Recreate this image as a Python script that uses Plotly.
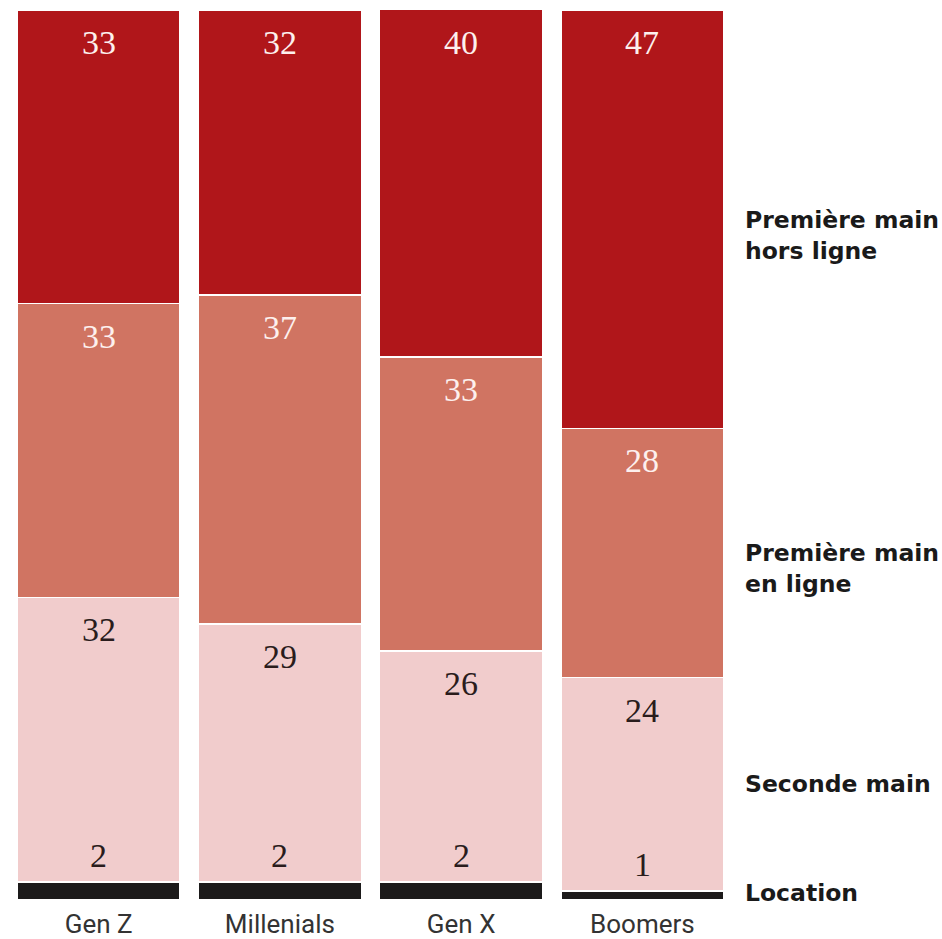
import plotly.graph_objects as go
import numpy as np

categories = ["Gen Z", "Millenials", "Gen X", "Boomers"]
location = [2, 2, 2, 1]
seconde_main = [32, 29, 26, 24]
premiere_en_ligne = [33, 37, 33, 28]
premiere_hors_ligne = [33, 32, 40, 47]

series_names = ["Location", "Seconde main", "Première main en ligne", "Première main hors ligne"]
side_labels = ["Location", "Seconde main", "Première main<br>en ligne", "Première main<br>hors ligne"]
series_values = [location, seconde_main, premiere_en_ligne, premiere_hors_ligne]
colors = ["#1c1a1a", "#f1cccc", "#d07462", "#b0161a"]
text_colors = ["#2a1c1c", "#2a1c1c", "#fdf0ee", "#fdf0ee"]

fig = go.Figure()
for name, vals, col in zip(series_names, series_values, colors):
    fig.add_trace(go.Bar(
        x=categories, y=vals, name=name,
        marker=dict(color=col, line=dict(color="white", width=1.5)),
        hoverinfo="skip",
    ))

cum = np.cumsum(np.array(series_values), axis=0)
annotations = []
serif = dict(family="Liberation Serif, DejaVu Serif, serif", size=34)
# value labels at the top of each segment (Location label sits above its bar)
for si, vals in enumerate(series_values):
    for ci, cat in enumerate(categories):
        top = float(cum[si][ci])
        if si == 0:
            annotations.append(dict(x=cat, y=top, xref="x", yref="y", text=str(vals[ci]),
                                    showarrow=False, yanchor="bottom", yshift=6,
                                    font=dict(color=text_colors[1], **serif)))
        else:
            annotations.append(dict(x=cat, y=min(top, 100), xref="x", yref="y", text=str(vals[ci]),
                                    showarrow=False, yanchor="top", yshift=-12,
                                    font=dict(color=text_colors[si], **serif)))

# side labels aligned with the last bar's segments
last = len(categories) - 1
for si, lab in enumerate(side_labels):
    lo = float(cum[si - 1][last]) if si > 0 else 0.0
    hi = float(cum[si][last])
    mid = (lo + hi) / 2
    two_line = "<br>" in lab
    annotations.append(dict(x=1, xref="paper", xanchor="left", xshift=10,
                            y=mid, yref="y", yanchor="middle",
                            yshift=(-16 if two_line else (3 if si == 0 else 0)),
                            text=lab, align="left", showarrow=False,
                            font=dict(family="DejaVu Sans, Arial, sans-serif", size=23.5, color="#1a1a1a", weight="bold")))

fig.update_layout(
    barmode="stack",
    bargap=0.1,
    width=942, height=939,
    margin=dict(l=8, r=209, t=10, b=39),
    plot_bgcolor="white", paper_bgcolor="white",
    showlegend=False,
    annotations=annotations,
    xaxis=dict(showgrid=False, showline=False, zeroline=False, ticks="",
               ticklabelstandoff=6, automargin=False,
               tickfont=dict(family="Roboto, Arial, sans-serif", size=26, color="#333333")),
    yaxis=dict(range=[0, 100], visible=False, showgrid=False, zeroline=False, automargin=False),
)

fig.write_html("out.html")
